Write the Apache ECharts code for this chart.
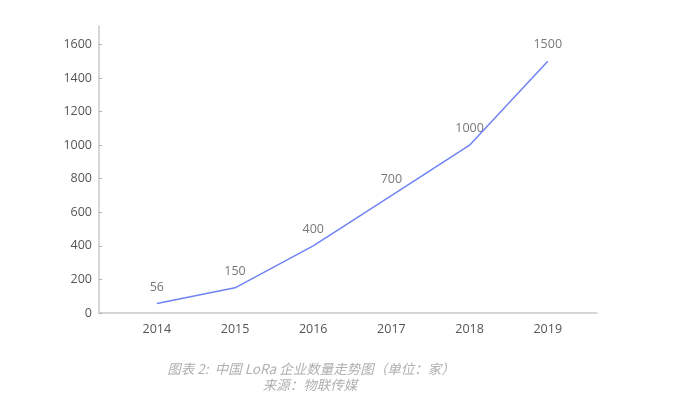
<!DOCTYPE html>
<html>
<head>
<meta charset="utf-8">
<script src="https://cdn.jsdelivr.net/npm/echarts@6/dist/echarts.min.js"></script>
<style>
html,body{margin:0;padding:0;background:#fff;}
#chart{width:681px;height:406px;}
</style>
</head>
<body>
<div id="chart"></div>
<script>
var years = [2014, 2015, 2016, 2017, 2018, 2019];
var companyCounts = [56, 150, 400, 700, 1000, 1500];
var yTicks = [0, 200, 400, 600, 800, 1000, 1200, 1400, 1600];
var captionLine1 = '图表 2:  中国 LoRa 企业数量走势图（单位：家）';
var captionLine2 = '来源：物联传媒';

var chart = echarts.init(document.getElementById('chart'));
var numFont = '"Open Sans", "Noto Sans", sans-serif';
var points = years.map(function (y, i) { return [y, companyCounts[i]]; });
chart.setOption({
  animation: false,
  grid: {left: 99, right: 84, top: 26, bottom: 93, containLabel: false},
  xAxis: {
    type: 'value',
    min: 2013.26,
    max: 2019.63,
    splitLine: {show: false},
    axisLine: {show: true, lineStyle: {color: '#c8c8c8', width: 1.5}},
    axisTick: {show: false},
    axisLabel: {
      customValues: years,
      color: '#555555',
      fontSize: 12.5,
      fontFamily: numFont,
      margin: 10,
      formatter: function (v) { return String(v); }
    }
  },
  yAxis: {
    type: 'value',
    min: 0,
    max: 1710,
    splitLine: {show: false},
    axisLine: {show: true, lineStyle: {color: '#c8c8c8', width: 1.5}},
    axisTick: {show: true, inside: true, length: 3, customValues: yTicks, lineStyle: {color: '#b0b0b0'}},
    axisLabel: {
      customValues: yTicks,
      color: '#555555',
      fontSize: 12.5,
      fontFamily: numFont,
      margin: 7,
      formatter: function (v) { return String(v); }
    }
  },
  series: [{
    type: 'line',
    data: points,
    symbol: 'none',
    lineStyle: {color: '#6f83f5', width: 1.5},
    itemStyle: {color: '#6f83f5'}
  }, {
    type: 'scatter',
    data: points,
    symbol: 'circle',
    symbolSize: 2,
    itemStyle: {color: 'rgba(0,0,0,0)'},
    label: {
      show: true,
      position: 'top',
      distance: 9,
      color: '#555555',
      fontSize: 12.5,
      fontFamily: numFont,
      formatter: function (p) { return String(p.value[1]); }
    }
  }],
  graphic: [
    {type: 'text', x: 311, y: 369, style: {text: captionLine1, textAlign: 'center', textVerticalAlign: 'middle', fill: '#b0b0b0', font: 'italic 13.5px "Noto Sans CJK SC", sans-serif'}},
    {type: 'text', x: 310, y: 385, style: {text: captionLine2, textAlign: 'center', textVerticalAlign: 'middle', fill: '#b0b0b0', font: 'italic 13.5px "Noto Sans CJK SC", sans-serif'}}
  ]
});
</script>
</body>
</html>
